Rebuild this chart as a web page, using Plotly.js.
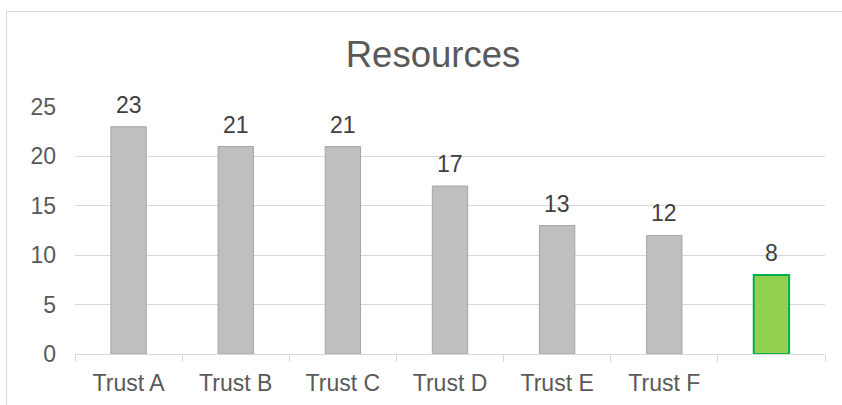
<!DOCTYPE html>
<html>
<head>
<meta charset="utf-8">
<script src="https://cdn.plot.ly/plotly-3.0.1.min.js"></script>
<style>
html,body{margin:0;padding:0;background:#fff;}
#chart{width:842px;height:405px;}
</style>
</head>
<body>
<div id="chart"></div>
<script>
const categories = ['Trust A', 'Trust B', 'Trust C', 'Trust D', 'Trust E', 'Trust F', ' '];
const values = [23, 21, 21, 17, 13, 12, 8];
const barColors = ['#bfbfbf', '#bfbfbf', '#bfbfbf', '#bfbfbf', '#bfbfbf', '#bfbfbf', '#92d050'];
const lineColors = ['#a6a6a6', '#a6a6a6', '#a6a6a6', '#a6a6a6', '#a6a6a6', '#a6a6a6', '#00b050'];
const lineWidths = [1, 1, 1, 1, 1, 1, 2];
const yTicks = [0, 5, 10, 15, 20, 25];

const FONT = 'Liberation Sans, Arial, sans-serif';

const trace = {
  type: 'bar',
  x: categories,
  y: values,
  width: 0.33,
  marker: { color: barColors, line: { color: lineColors, width: lineWidths } },
  hoverinfo: 'skip'
};

const annotations = categories.map((c, i) => ({
  x: c, y: values[i], xref: 'x', yref: 'y',
  text: String(values[i]), showarrow: false,
  yanchor: 'bottom', yshift: 7,
  font: { family: FONT, size: 23, color: '#404040' }
}));

const layout = {
  width: 842, height: 405,
  margin: { l: 75, r: 17, t: 107, b: 51, pad: 0 },
  paper_bgcolor: '#ffffff', plot_bgcolor: '#ffffff',
  showlegend: false,
  title: {
    text: 'Resources',
    font: { family: FONT, size: 36.5, color: '#595959' },
    x: 433 / 842, xref: 'container', xanchor: 'center',
    y: 1 - 54 / 405, yref: 'container', yanchor: 'middle'
  },
  xaxis: {
    type: 'category',
    tickson: 'boundaries',
    ticks: 'outside', ticklen: 7, tickcolor: '#d9d9d9', tickwidth: 1,
    showline: true, linecolor: '#d9d9d9', linewidth: 1,
    showgrid: false, zeroline: false,
    tickfont: { family: FONT, size: 23, color: '#595959' },
    ticklabelstandoff: 8,
    fixedrange: true
  },
  yaxis: {
    range: [0, 25],
    tickvals: yTicks,
    ticktext: yTicks.map(String),
    showgrid: true, gridcolor: '#d9d9d9', gridwidth: 1,
    zeroline: false, showline: false, ticks: '',
    tickfont: { family: FONT, size: 23, color: '#595959' },
    ticklabelstandoff: 18,
    fixedrange: true
  },
  annotations: annotations,
  shapes: [{
    type: 'rect', xref: 'paper', yref: 'paper', layer: 'below',
    x0: (6.5 - 75) / 750, x1: 2, y0: -1, y1: (354 - 11.5) / 247,
    line: { color: '#d9d9d9', width: 1 }, fillcolor: 'rgba(0,0,0,0)'
  }],
  font: { family: FONT, color: '#595959' }
};

Plotly.newPlot('chart', [trace], layout, { staticPlot: true, displayModeBar: false });
</script>
</body>
</html>
